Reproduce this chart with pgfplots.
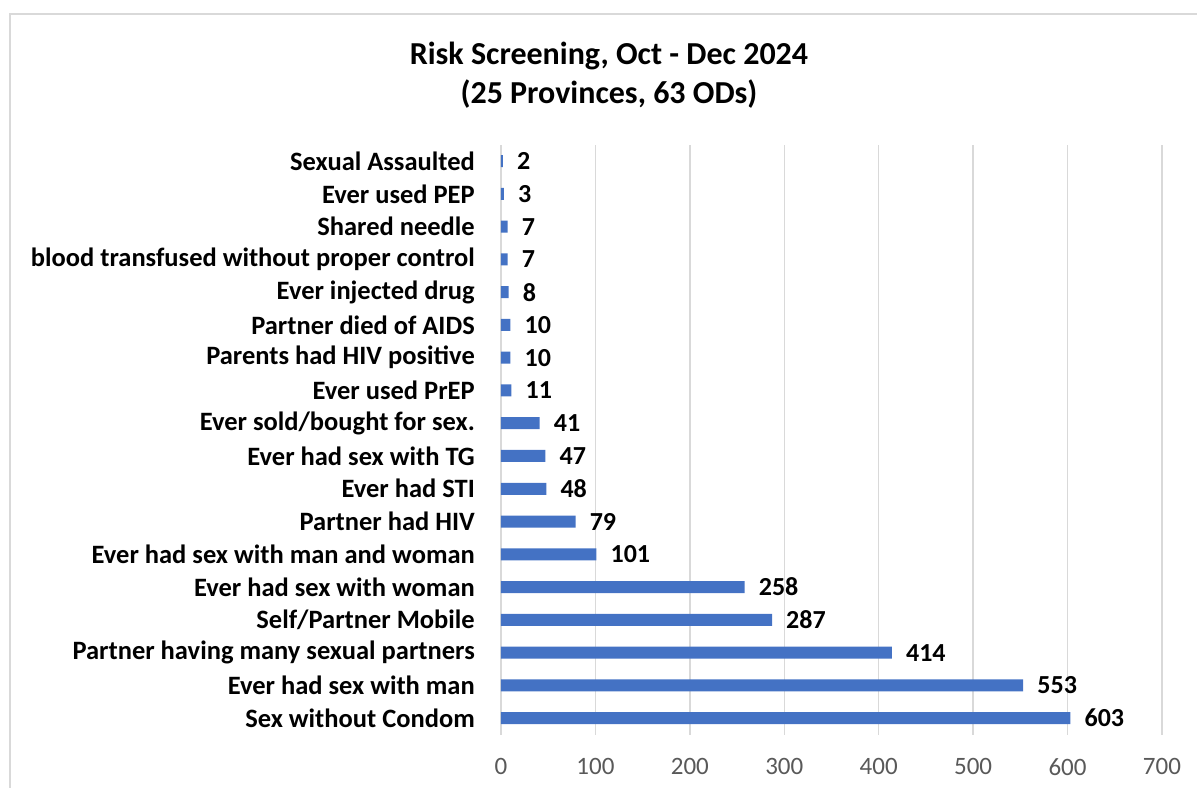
\documentclass[border=0pt]{standalone}
\usepackage{fontspec}
\setmainfont{Carlito}
\usepackage{pgfplots}
\pgfplotsset{compat=1.18}
\definecolor{barblue}{HTML}{4472C4}
\definecolor{gridgray}{HTML}{D9D9D9}
\definecolor{tickgray}{HTML}{595959}
\begin{document}
\begin{tikzpicture}[x=1pt,y=1pt]
\useasboundingbox (0,0) rectangle (1197,-788);
\draw[gridgray, line width=1.5pt] (1197,-14) -- (10,-14) -- (10,-788);
\node[font=\fontsize{32}{39}\selectfont\bfseries, align=center, text=black] at (609,-75.5) {Risk Screening, Oct - Dec 2024\\(25 Provinces, 63 ODs)};
\begin{axis}[
  at={(501pt,-734.5pt)}, anchor=south west,
  scale only axis, width=661pt, height=589.8pt,
  xbar, bar width=12pt,
  xmin=0, xmax=700, ymin=-0.5, ymax=17.5,
  xtick={0,100,...,700},
  ytick={0,...,17},
  yticklabels={Sex without Condom, Ever had sex with man, Partner having many sexual partners, Self/Partner Mobile, Ever had sex with woman, Ever had sex with man and woman, Partner had HIV, Ever had STI, Ever had sex with TG, Ever sold/bought for sex., Ever used PrEP, Parents had HIV positive, Partner died of AIDS, Ever injected drug, blood transfused without proper control, Shared needle, Ever used PEP, Sexual Assaulted},
  xmajorgrids, grid style={draw=gridgray, line width=1.5pt},
  axis line style={draw=none},
  major tick length=0pt,
  /pgf/number format/assume math mode=true,
  xticklabel style={font=\fontsize{25}{30}\selectfont, text=tickgray, inner sep=0pt, yshift=-24pt},
  yticklabel style={font=\fontsize{26.5}{30}\selectfont\bfseries, text=black, inner sep=0pt, xshift=-26pt},
  nodes near coords,
  nodes near coords style={font=\fontsize{26}{30}\selectfont\bfseries, text=black, anchor=west, inner sep=0pt, xshift=14pt},
]
\addplot[fill=barblue, draw=none] coordinates {
(603,0) (553,1) (414,2) (287,3) (258,4) (101,5) (79,6) (48,7) (47,8) (41,9) (11,10) (10,11) (10,12) (8,13) (7,14) (7,15) (3,16) (2,17)
};
\end{axis}
\end{tikzpicture}
\end{document}
